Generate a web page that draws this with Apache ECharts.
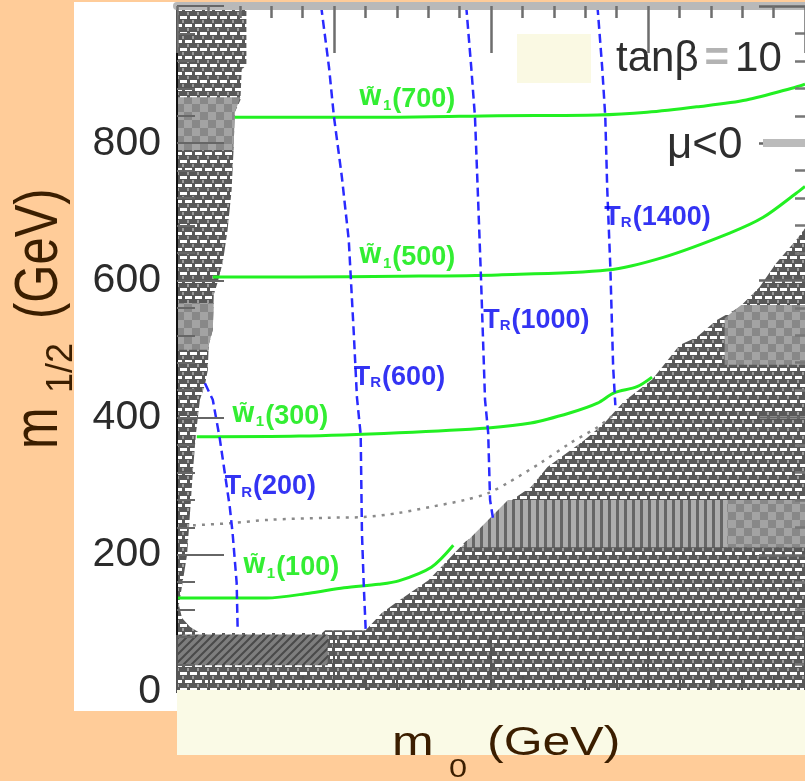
<!DOCTYPE html>
<html>
<head>
<meta charset="utf-8">
<script src="https://cdn.jsdelivr.net/npm/echarts/dist/echarts.min.js"></script>
<style>
html,body{margin:0;padding:0;background:#FFCC99;}
#c{width:805px;height:781px;}
</style>
</head>
<body>
<div id="c"></div>
<script>
// ---------- data (m0 in GeV, m1/2 in GeV) ----------
const yTicks = [0, 200, 400, 600, 800];

// chargino mass contours W1 (green)
const w100X = [0, 285, 421, 532, 642, 706, 810, 880];
const w100Y = [137, 137, 144, 152, 157, 162, 182, 214];
const w300X = [63, 389, 706, 990, 1127, 1253, 1339, 1392, 1465, 1513];
const w300Y = [372, 373, 378, 385, 392, 407, 421, 436, 445, 459];
const w500X = [114, 389, 706, 1022, 1370, 1551, 1760, 1867, 1972, 2000];
const w500Y = [605, 605, 606, 608, 615, 634, 669, 692, 727, 737];
const w700X = [184, 389, 706, 1022, 1339, 1497, 1655, 1813, 1972, 2000];
const w700Y = [838, 838, 838, 840, 841, 845, 853, 863, 882, 886];

// T_R contours (blue dashed)
const tr200X = [89, 114, 136, 168, 177, 190, 193];
const tr200Y = [450, 426, 370, 270, 232, 159, 95];
const tr600X = [459, 484, 500, 525, 547, 563, 573, 585, 589, 595, 601];
const tr600Y = [1000, 911, 838, 751, 659, 523, 430, 375, 232, 153, 90];
const tr1000X = [921, 937, 949, 959, 968, 981, 991, 997, 1006];
const tr1000Y = [1000, 911, 838, 717, 605, 426, 378, 280, 254];
const tr1400X = [1339, 1354, 1364, 1370, 1380, 1389, 1396];
const tr1400Y = [1000, 911, 838, 736, 620, 474, 418];

// grey dotted contour
const dotX = [51, 168, 294, 484, 595, 706, 810, 918, 991, 1054, 1158, 1253, 1339, 1402];
const dotY = [243, 246, 251, 254, 255, 261, 270, 280, 290, 305, 334, 363, 386, 408];

// excluded region (hatched)
const exclX = [0, 221, 221, 206, 202, 184, 180, 174, 161, 146, 130, 117, 114, 101, 98, 89, 73, 60, 51, 41, 32, 19, 6, 16, 41, 73, 462, 472, 601, 652, 706, 801, 918, 959, 1000, 1032, 1054, 1127, 1180, 1297, 1361, 1424, 1513, 1601, 1655, 1718, 1791, 1855, 1908, 1972, 2000, 2000, 0];
const exclY = [1000, 1000, 914, 907, 863, 845, 790, 732, 673, 627, 598, 579, 528, 506, 469, 448, 426, 375, 324, 258, 200, 163, 127, 108, 95, 86, 86, 90, 90, 115, 133, 163, 219, 232, 249, 255, 276, 299, 328, 367, 392, 424, 455, 506, 517, 542, 561, 590, 625, 659, 676, 0, 0];
// darker sub-regions
const patchAX = [0, 202, 184, 180, 0];
const patchAY = [867, 867, 845, 790, 790];
const patchBX = [0, 117, 114, 101, 101, 0];
const patchBY = [567, 567, 528, 506, 499, 499];
const bandBLX = [0, 480, 480, 0];
const bandBLY = [84, 84, 39, 39];
const bandRX = [905, 1054, 2000, 2000];
const bandRY = [211, 280, 280, 211];
const bandRCX = [1752, 2000, 2000, 1752];
const bandRCY = [211, 211, 280, 280];
const patchRX = [1797, 2000, 2000, 1744, 1744];
const patchRY = [564, 564, 477, 477, 545];

// contour label annotations
const wLabelNames = ['700', '500', '300', '100'];
const wLabelX = [579, 579, 174, 209];
const wLabelY = [863, 633, 402, 181];
const trLabelNames = ['200', '600', '1000', '1400'];
const trLabelX = [152, 563, 975, 1361];
const trLabelY = [299, 459, 542, 692];

// ---------- patterns ----------
function mk(w, h, draw) {
  const c = document.createElement('canvas'); c.width = w; c.height = h;
  draw(c.getContext('2d')); return {image: c, repeat: 'repeat'};
}
const brick = mk(10, 16, g => {
  g.fillStyle = '#585858'; g.fillRect(0, 0, 10, 16);
  g.fillStyle = '#9c9c9c'; g.fillRect(2, 4, 2, 3); g.fillRect(7, 12, 2, 3);
  g.fillStyle = '#ffffff'; g.fillRect(0, 0, 7, 3); g.fillRect(5, 8, 5, 3); g.fillRect(0, 8, 2, 3);
});
const checker = mk(16, 16, g => {
  g.fillStyle = '#888888'; g.fillRect(0, 0, 16, 16);
  g.fillStyle = '#a3a3a3'; g.fillRect(0, 0, 8, 8); g.fillRect(8, 8, 8, 8);
});
const stripes = mk(8, 8, g => {
  g.fillStyle = '#adadad'; g.fillRect(0, 0, 8, 8);
  g.fillStyle = '#666666'; g.fillRect(0, 0, 3, 8);
});
const diag = mk(8, 8, g => {
  g.fillStyle = '#7e7e7e'; g.fillRect(0, 0, 8, 8);
  g.strokeStyle = '#4a4a4a'; g.lineWidth = 2;
  g.beginPath(); g.moveTo(-2, 10); g.lineTo(10, -2); g.moveTo(6, 10); g.lineTo(10, 6); g.moveTo(-2, 2); g.lineTo(2, -2); g.stroke();
});

// ---------- series builders ----------
function poly(xs, ys, fill, z) {
  return {
    type: 'custom', silent: true, z: z, clip: true,
    data: [[xs[0], ys[0]]],
    renderItem: function (params, api) {
      return {type: 'polygon', shape: {points: xs.map((x, i) => api.coord([x, ys[i]]))}, style: {fill: fill}};
    }
  };
}
function line(xs, ys, color, width, type, smooth) {
  return {
    type: 'line', silent: true, z: 3, symbol: 'none', showSymbol: false, smooth: smooth, clip: true,
    data: xs.map((x, i) => [x, ys[i]]),
    lineStyle: {color: color, width: width, type: type}
  };
}
const GREEN = '#22f022', GTXT = '#00ea00', BLUE = '#2a2aff', BTXT = '#0000f0';

const series = [
  poly(exclX, exclY, brick, 1),
  poly(patchAX, patchAY, checker, 1),
  poly(patchBX, patchBY, checker, 1),
  poly(bandBLX, bandBLY, diag, 1),
  poly(bandRX, bandRY, stripes, 1),
  poly(bandRCX, bandRCY, checker, 1),
  poly(patchRX, patchRY, checker, 1),
  line(dotX, dotY, '#8a8a8a', 2.5, [3, 6], 0.3),
  line(w100X, w100Y, GREEN, 3, 'solid', 0.3),
  line(w300X, w300Y, GREEN, 3, 'solid', 0.3),
  line(w500X, w500Y, GREEN, 3, 'solid', 0.3),
  line(w700X, w700Y, GREEN, 3, 'solid', 0.3),
  line(tr200X, tr200Y, BLUE, 2.5, [9, 5], 0),
  line(tr600X, tr600Y, BLUE, 2.5, [9, 5], 0),
  line(tr1000X, tr1000Y, BLUE, 2.5, [9, 5], 0),
  line(tr1400X, tr1400Y, BLUE, 2.5, [9, 5], 0),
  {
    type: 'scatter', silent: true, z: 6, symbolSize: 0,
    data: wLabelNames.map((n, i) => [wLabelX[i], wLabelY[i], n]),
    label: {
      show: true, position: 'right', distance: 0,
      formatter: p => '{c|W\u0303}{b|1}{a|(' + p.data[2] + ')}',
      rich: {
        a: {fontFamily: 'Liberation Sans', fontWeight: 'bold', fontSize: 27, color: GTXT, lineHeight: 30},
        c: {fontFamily: 'DejaVu Sans', fontWeight: 'bold', fontSize: 21, color: GTXT, lineHeight: 30},
        b: {fontFamily: 'Liberation Sans', fontWeight: 'bold', fontSize: 15, color: GTXT, padding: [12, 1, 0, 1]}
      }
    }
  },
  {
    type: 'scatter', silent: true, z: 6, symbolSize: 0,
    data: trLabelNames.map((n, i) => [trLabelX[i], trLabelY[i], n]),
    label: {
      show: true, position: 'right', distance: 0,
      formatter: p => '{a|T}{b|R}{a|(' + p.data[2] + ')}',
      rich: {
        a: {fontFamily: 'Liberation Sans', fontWeight: 'bold', fontSize: 27, color: BTXT, lineHeight: 30},
        b: {fontFamily: 'Liberation Sans', fontWeight: 'bold', fontSize: 15, color: BTXT, padding: [12, 1, 0, 0]}
      }
    }
  }
];

const TITLE = '#3b1e00';
const option = {
  backgroundColor: '#FFCC99',
  animation: false,
  grid: {left: 177, top: 6, width: 632, height: 686, show: true, backgroundColor: '#ffffff', borderWidth: 0},
  xAxis: [
    {type: 'value', min: 0, max: 2000, interval: 500, position: 'bottom', z: 5,
     axisLine: {show: false, onZero: false}, axisLabel: {show: false}, splitLine: {show: false},
     axisTick: {show: true, inside: true, length: 57, lineStyle: {color: '#555', width: 2}},
     minorTick: {show: true, splitNumber: 5, length: 17, lineStyle: {color: '#555', width: 2}}},
    {type: 'value', min: 0, max: 2000, interval: 500, position: 'top', z: 5,
     axisLine: {show: true, onZero: false, lineStyle: {color: '#b9b9b9', width: 8}}, axisLabel: {show: false}, splitLine: {show: false},
     axisTick: {show: true, inside: true, length: 47, lineStyle: {color: '#6e6e6e', width: 2.5}},
     minorTick: {show: true, splitNumber: 5, length: 12, lineStyle: {color: '#6e6e6e', width: 2.5}}}
  ],
  yAxis: [
    {type: 'value', min: 0, max: 1000, interval: 200, position: 'left', z: 5,
     axisLine: {show: true, onZero: false, lineStyle: {color: '#111', width: 2}},
     axisLabel: {fontSize: 41, fontFamily: 'Liberation Sans', color: '#2b2b2b', margin: 16, showMaxLabel: false,
                 formatter: v => (yTicks.indexOf(v) >= 0 ? String(v) : '')},
     splitLine: {show: false},
     axisTick: {show: true, inside: true, length: 47, lineStyle: {color: '#666', width: 2}},
     minorTick: {show: true, splitNumber: 5, length: 18, lineStyle: {color: '#666', width: 2}}},
    {type: 'value', min: 0, max: 1000, interval: 200, position: 'right', z: 5,
     axisLine: {show: false, onZero: false}, axisLabel: {show: false}, splitLine: {show: false},
     axisTick: {show: true, inside: true, length: 46, lineStyle: {color: '#666', width: 2.5}},
     minorTick: {show: true, splitNumber: 5, length: 10, lineStyle: {color: '#777', width: 2.5}}}
  ],
  series: series,
  graphic: [
    {type: 'rect', z: 0, silent: true, shape: {x: 74, y: 2, width: 104, height: 709}, style: {fill: '#ffffff'}},
    {type: 'rect', z: 6, silent: true, shape: {x: 177, y: 690, width: 628, height: 65}, style: {fill: '#FAFAE6'}},
    {type: 'rect', z: 3, silent: true, shape: {x: 517, y: 34, width: 74, height: 49}, style: {fill: '#FAF9E3'}},
    {type: 'text', z: 7, silent: true, x: 616, y: 59,
     style: {text: '{a|tanβ}{b|=}{a|10}', verticalAlign: 'middle', align: 'left',
             rich: {a: {fontFamily: 'Liberation Sans', fontSize: 42, fill: '#2e2e2e'},
                    b: {fontFamily: 'Liberation Sans', fontSize: 42, fontWeight: 'bold', fill: '#b3b3b3', padding: [0, 6, 0, 6]}}}},
    {type: 'text', z: 7, silent: true, x: 667, y: 146,
     style: {text: 'μ<0', verticalAlign: 'middle', align: 'left', fontFamily: 'Liberation Sans', fontSize: 44, fill: '#2e2e2e'}},
    {type: 'line', z: 7, silent: true, shape: {x1: 763, y1: 143, x2: 809, y2: 143}, style: {stroke: '#bbbbbb', lineWidth: 8}},
    // x title
    {type: 'text', z: 10, silent: true, x: 392, y: 744, scaleX: 1.25,
     style: {text: 'm', fontFamily: 'Liberation Sans', fontSize: 40, fill: TITLE, align: 'left', verticalAlign: 'middle'}},
    {type: 'text', z: 10, silent: true, x: 449, y: 770, scaleX: 1.25,
     style: {text: '0', fontFamily: 'Liberation Sans', fontSize: 26, fill: TITLE, align: 'left', verticalAlign: 'middle'}},
    {type: 'text', z: 10, silent: true, x: 487, y: 744, scaleX: 1.25,
     style: {text: '(GeV)', fontFamily: 'Liberation Sans', fontSize: 40, fill: TITLE, align: 'left', verticalAlign: 'middle'}},
    // y title
    {type: 'text', z: 10, silent: true, x: 40, y: 449, rotation: Math.PI / 2, scaleY: 1.25,
     style: {text: 'm', fontFamily: 'Liberation Sans', fontSize: 50, fill: TITLE, align: 'left', verticalAlign: 'middle'}},
    {type: 'text', z: 10, silent: true, x: 62, y: 393, rotation: Math.PI / 2,
     style: {text: '1/2', fontFamily: 'Liberation Sans', fontSize: 36, fill: TITLE, align: 'left', verticalAlign: 'middle'}},
    {type: 'text', z: 10, silent: true, x: 40, y: 319, rotation: Math.PI / 2, scaleY: 1.25,
     style: {text: '(GeV)', fontFamily: 'Liberation Sans', fontSize: 49, fill: TITLE, align: 'left', verticalAlign: 'middle'}}
  ]
};
const chart = echarts.init(document.getElementById('c'), null, {renderer: 'canvas'});
chart.setOption(option);
</script>
</body>
</html>
